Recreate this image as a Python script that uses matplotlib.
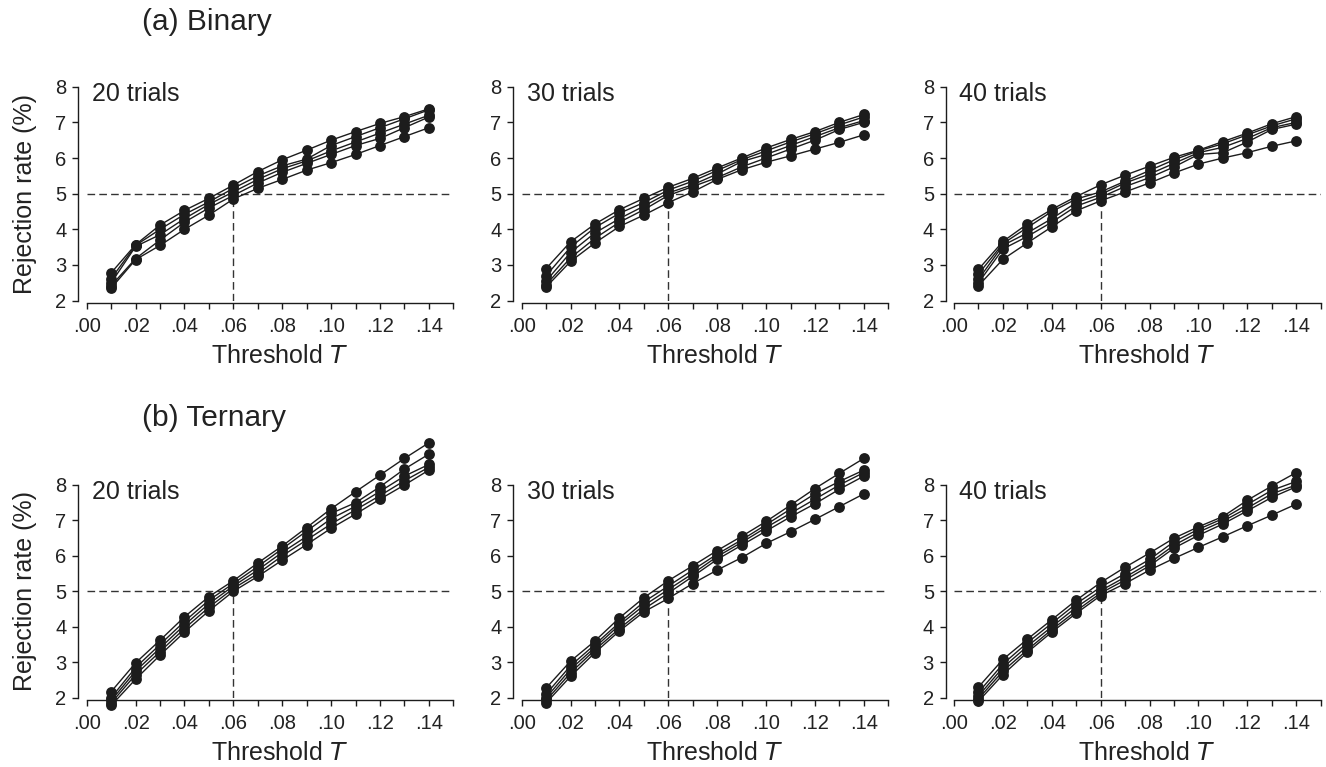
#!/usr/bin/env python3
"""Rejection rate vs threshold T, binary and ternary, for 20/30/40 trials."""

import matplotlib

matplotlib.use("Agg")
import matplotlib.pyplot as plt
import numpy as np

plt.rcParams["font.family"] = ["Liberation Sans", "DejaVu Sans"]

thresholds = [0.01, 0.02, 0.03, 0.04, 0.05, 0.06, 0.07,
              0.08, 0.09, 0.10, 0.11, 0.12, 0.13, 0.14]
trial_counts = [20, 30, 40]
row_titles = ["(a) Binary", "(b) Ternary"]
x_ticks = [0.00, 0.01, 0.02, 0.03, 0.04, 0.05, 0.06, 0.07,
           0.08, 0.09, 0.10, 0.11, 0.12, 0.13, 0.14, 0.15]
x_tick_labels = [".00", "", ".02", "", ".04", "", ".06", "", ".08", "",
                 ".10", "", ".12", "", ".14", ""]
y_ticks = [2, 3, 4, 5, 6, 7, 8]

# rejection rate (%) -- five curves per panel
binary_20 = [
    [2.78, 3.57, 4.12, 4.53, 4.87, 5.24, 5.62, 5.95, 6.22, 6.50, 6.74, 6.97, 7.16, 7.38],
    [2.62, 3.55, 4.00, 4.42, 4.77, 5.15, 5.50, 5.78, 5.97, 6.35, 6.60, 6.85, 7.10, 7.35],
    [2.50, 3.52, 3.85, 4.30, 4.70, 5.05, 5.40, 5.70, 5.92, 6.20, 6.45, 6.70, 6.95, 7.20],
    [2.42, 3.18, 3.70, 4.20, 4.60, 4.95, 5.30, 5.60, 5.85, 6.10, 6.35, 6.55, 6.85, 7.15],
    [2.35, 3.15, 3.55, 4.00, 4.40, 4.85, 5.15, 5.40, 5.66, 5.87, 6.10, 6.35, 6.60, 6.85],
]
binary_30 = [
    [2.90, 3.65, 4.15, 4.55, 4.87, 5.18, 5.43, 5.72, 6.00, 6.28, 6.52, 6.74, 7.00, 7.22],
    [2.70, 3.50, 4.05, 4.45, 4.75, 5.10, 5.35, 5.65, 5.95, 6.20, 6.45, 6.68, 6.93, 7.15],
    [2.55, 3.35, 3.90, 4.30, 4.65, 5.02, 5.25, 5.55, 5.90, 6.10, 6.35, 6.60, 6.85, 7.05],
    [2.45, 3.20, 3.75, 4.20, 4.55, 4.95, 5.20, 5.45, 5.75, 6.00, 6.25, 6.50, 6.80, 7.00],
    [2.38, 3.10, 3.62, 4.08, 4.40, 4.75, 5.05, 5.40, 5.67, 5.88, 6.06, 6.25, 6.44, 6.65],
]
binary_40 = [
    [2.88, 3.66, 4.15, 4.56, 4.92, 5.25, 5.52, 5.77, 6.02, 6.22, 6.46, 6.70, 6.96, 7.16],
    [2.75, 3.60, 4.05, 4.50, 4.85, 5.05, 5.35, 5.65, 5.95, 6.20, 6.40, 6.65, 6.90, 7.10],
    [2.60, 3.55, 3.90, 4.30, 4.75, 4.98, 5.30, 5.55, 5.85, 6.15, 6.30, 6.55, 6.85, 7.00],
    [2.50, 3.45, 3.80, 4.20, 4.65, 4.90, 5.20, 5.45, 5.75, 6.10, 6.15, 6.45, 6.80, 6.95],
    [2.42, 3.16, 3.62, 4.07, 4.52, 4.80, 5.05, 5.30, 5.58, 5.83, 6.00, 6.15, 6.33, 6.48],
]
ternary_20 = [
    [2.17, 2.98, 3.62, 4.28, 4.85, 5.30, 5.80, 6.28, 6.80, 7.33, 7.81, 8.28, 8.75, 9.19],
    [2.00, 2.85, 3.50, 4.15, 4.75, 5.22, 5.70, 6.20, 6.70, 7.20, 7.50, 7.95, 8.45, 8.87],
    [1.92, 2.75, 3.40, 4.05, 4.65, 5.15, 5.60, 6.10, 6.55, 7.05, 7.40, 7.82, 8.25, 8.58],
    [1.85, 2.65, 3.30, 3.95, 4.55, 5.08, 5.50, 6.00, 6.45, 6.90, 7.30, 7.70, 8.12, 8.50],
    [1.78, 2.52, 3.20, 3.85, 4.45, 5.00, 5.42, 5.88, 6.32, 6.78, 7.18, 7.60, 8.00, 8.42],
]
ternary_30 = [
    [2.27, 3.03, 3.60, 4.25, 4.82, 5.30, 5.72, 6.15, 6.55, 6.97, 7.43, 7.90, 8.33, 8.75],
    [2.10, 2.90, 3.50, 4.12, 4.70, 5.15, 5.60, 6.05, 6.45, 6.88, 7.32, 7.75, 8.10, 8.42],
    [2.00, 2.80, 3.42, 4.05, 4.60, 5.05, 5.50, 5.98, 6.38, 6.80, 7.20, 7.60, 8.00, 8.35],
    [1.92, 2.70, 3.35, 3.95, 4.50, 4.95, 5.42, 5.90, 6.30, 6.70, 7.10, 7.47, 7.88, 8.25],
    [1.85, 2.60, 3.27, 3.88, 4.42, 4.80, 5.22, 5.60, 5.95, 6.35, 6.68, 7.03, 7.39, 7.75],
]
ternary_40 = [
    [2.30, 3.08, 3.65, 4.20, 4.75, 5.25, 5.68, 6.08, 6.50, 6.82, 7.11, 7.57, 7.97, 8.35],
    [2.15, 2.95, 3.55, 4.10, 4.65, 5.12, 5.50, 5.90, 6.40, 6.75, 7.05, 7.45, 7.85, 8.10],
    [2.05, 2.85, 3.45, 4.00, 4.55, 5.02, 5.40, 5.80, 6.30, 6.67, 6.98, 7.35, 7.75, 8.00],
    [1.97, 2.75, 3.35, 3.92, 4.45, 4.95, 5.32, 5.72, 6.22, 6.58, 6.90, 7.27, 7.65, 7.95],
    [1.90, 2.65, 3.28, 3.85, 4.38, 4.88, 5.22, 5.60, 5.93, 6.24, 6.54, 6.85, 7.15, 7.46],
]

panels = [[binary_20, binary_30, binary_40], [ternary_20, ternary_30, ternary_40]]

INK = "#1c1c1c"
TEXT = "#222222"

fig = plt.figure(figsize=(13.26, 7.67), dpi=100)
col_left = [0.0654, 0.3934, 0.7195]
col_width = 0.2765
row_bottom = [0.608, 0.0904]
row_height = [0.279, 0.2773]
title_y = [0.971, 0.455]

for r, row in enumerate(panels):
    fig.text(0.107, title_y[r], row_titles[r], fontsize=21.5, color=TEXT,
             ha="left", va="center")
    for c, series in enumerate(row):
        ax = fig.add_axes([col_left[c], row_bottom[r], col_width, row_height[r]])
        ax.hlines(5, 0, 0.15, colors="#333333", linestyles=(0, (5.5, 3)), lw=1.0, zorder=1)
        ax.vlines(0.06, 2, 5, colors="#333333", linestyles=(0, (5.5, 3)), lw=1.0, zorder=1)
        for vals in series:
            ax.plot(thresholds, vals, color=INK, lw=1.0, marker="o", markersize=7.8,
                    markeredgewidth=0, clip_on=False, zorder=3)

        ax.set_xlim(0, 0.15)
        ax.set_ylim(2, 8)
        ax.set_xticks(x_ticks)
        ax.set_xticklabels(x_tick_labels)
        ax.set_yticks(y_ticks)
        ax.tick_params(axis="both", direction="out", length=4.5, width=1.0,
                       colors=INK, labelcolor=TEXT, labelsize=14.5)
        ax.tick_params(axis="x", pad=5)
        ax.tick_params(axis="y", pad=4)

        for side in ("top", "right"):
            ax.spines[side].set_visible(False)
        ax.spines["left"].set_position(("outward", 6))
        ax.spines["bottom"].set_position(("outward", 2))
        ax.spines["left"].set_bounds(2, 8)
        ax.spines["bottom"].set_bounds(0, 0.15)
        for side in ("left", "bottom"):
            ax.spines[side].set_linewidth(1.0)
            ax.spines[side].set_color(INK)
        ax.patch.set_visible(False)

        ax.set_xlabel("Threshold $\\mathit{T}$", fontsize=18, color=TEXT)
        ax.xaxis.label.set_va("center")
        ax.xaxis.set_label_coords(0.525, -0.26)
        if c == 0:
            ax.set_ylabel("Rejection rate (%)", fontsize=18, color=TEXT, labelpad=13)
        ax.text(0.002, 7.8, f"{trial_counts[c]} trials", fontsize=18, color=TEXT,
                ha="left", va="center")

fig.savefig("out.png", dpi=100)
